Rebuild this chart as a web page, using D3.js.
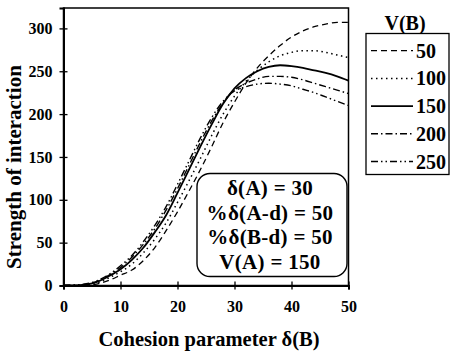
<!DOCTYPE html>
<html><head><meta charset="utf-8">
<script src="https://cdn.jsdelivr.net/npm/d3@7"></script>
<style>body{margin:0;background:#fff}svg{display:block}text{font-family:"Liberation Serif","DejaVu Serif",serif;font-weight:bold}</style>
</head><body>
<svg id="c" width="450" height="351"></svg>
<script>
const xValues = [0,2,4,6,8,10,12,14,16,18,20,22,24,26,28,30,32,34,36,38,40,42,44,46,48,50];
const seriesNames = ["50","100","150","200","250"];
const v50  = [0,0,0,2,6,12,18,29,44,64,86,110,135,162,190,214,236,254,268,280,290,297,302,305,307,307];
const v100 = [0,0,0.5,3,9,16,25,38,54,73,97,122,148,175,200,221,238,251,261,268,272,274,274,272,269,266];
const v150 = [0,0,1,4.5,11,19,30,44,62,82,108,135,162,188,212,230,242,250,255,257,256,254,251,248,244,239];
const v200 = [0,0,1.5,5,12,21,33,48,66,88,113,140,167,192,213,228,236,241,244,244,243,240,236,232,228,224];
const v250 = [0,0.5,2,6,13,23,35,51,70,92,118,145,172,196,215,227,232,235,236,235,233,229,225,220,215,210];
const xTicks = [0,10,20,30,40,50];
const yTicks = [0,50,100,150,200,250,300];
const infoLines = ["δ(A) = 30","%δ(A-d) = 50","%δ(B-d) = 50","V(A) = 150"];
const legendTitle = "V(B)";
const xTitle = "Cohesion parameter δ(B)";
const yTitle = "Strength of interaction";

const allSeries = [v50,v100,v150,v200,v250];
const dashes = ["6,4","1.5,3.5",null,"7,3,1.5,3","7,3,1.5,3,1.5,3"];
const widths = [1.3,1.5,1.8,1.4,1.4];

const svg = d3.select("#c");
const L=63.5, R=348.5, T=8, B=285.5;
const x = d3.scaleLinear().domain([0,50]).range([L,R]);
const y = d3.scaleLinear().domain([0,323.8]).range([B,T]);

svg.append("rect").attr("x",L).attr("y",T).attr("width",R-L).attr("height",B-T)
  .attr("fill","none").attr("stroke","#000").attr("stroke-width",1.5);

const xAxis = d3.axisBottom(x).tickValues(xTicks).tickSize(4).tickFormat(d3.format("d"));
const gx = svg.append("g").attr("transform",`translate(0,${B})`).call(xAxis);
gx.attr("font-family",null).attr("font-size",null);
gx.select(".domain").attr("stroke-width",2);
gx.selectAll(".tick line").attr("y1",-4).attr("y2",4).attr("stroke-width",1.3);
gx.selectAll(".tick text").attr("y",26).attr("dy",0).style("font-size","16px");

const yAxis = d3.axisLeft(y).tickValues(yTicks).tickSize(4).tickFormat(d3.format("d"));
const gy = svg.append("g").attr("transform",`translate(${L},0)`).call(yAxis);
gy.attr("font-family",null).attr("font-size",null);
gy.select(".domain").attr("stroke-width",2);
gy.selectAll(".tick line").attr("x1",-4).attr("x2",4).attr("stroke-width",1.3);
gy.selectAll(".tick text").attr("x",-11).style("font-size","16px");

const line = d3.line().x((d,i)=>x(xValues[i])).y(d=>y(d)).curve(d3.curveMonotoneX);
allSeries.forEach((s,k)=>{
  svg.append("path").datum(s).attr("d",line).attr("fill","none").attr("stroke","#000")
    .attr("stroke-width",widths[k]).attr("stroke-dasharray",dashes[k]);
});

svg.append("rect").attr("x",197).attr("y",173.5).attr("width",150).attr("height",103)
  .attr("rx",13).attr("fill","#fff").attr("stroke","#000").attr("stroke-width",1.4);
infoLines.forEach((t,i)=>{
  svg.append("text").attr("x",270).attr("y",195+i*24.5).attr("text-anchor","middle")
    .style("font-size","21px").style("letter-spacing","0.3px").text(t);
});

svg.append("text").attr("x",405).attr("y",30).attr("text-anchor","middle")
  .style("font-size","20px").text(legendTitle);
svg.append("rect").attr("x",366).attr("y",33.5).attr("width",83).attr("height",141)
  .attr("fill","#fff").attr("stroke","#000").attr("stroke-width",1.3);
seriesNames.forEach((n,k)=>{
  const yy = 50.7 + k*27.7;
  svg.append("line").attr("x1",371).attr("x2",413).attr("y1",yy).attr("y2",yy)
    .attr("stroke","#000").attr("stroke-width",widths[k]).attr("stroke-dasharray",dashes[k]);
  svg.append("text").attr("x",416).attr("y",yy+7).style("font-size","20px").text(n);
});

svg.append("text").attr("x",209).attr("y",346).attr("text-anchor","middle")
  .style("font-size","20.5px").text(xTitle);
svg.append("text").attr("transform","translate(21,167) rotate(-90)").attr("text-anchor","middle")
  .style("font-size","21px").text(yTitle);
</script>
</body></html>
